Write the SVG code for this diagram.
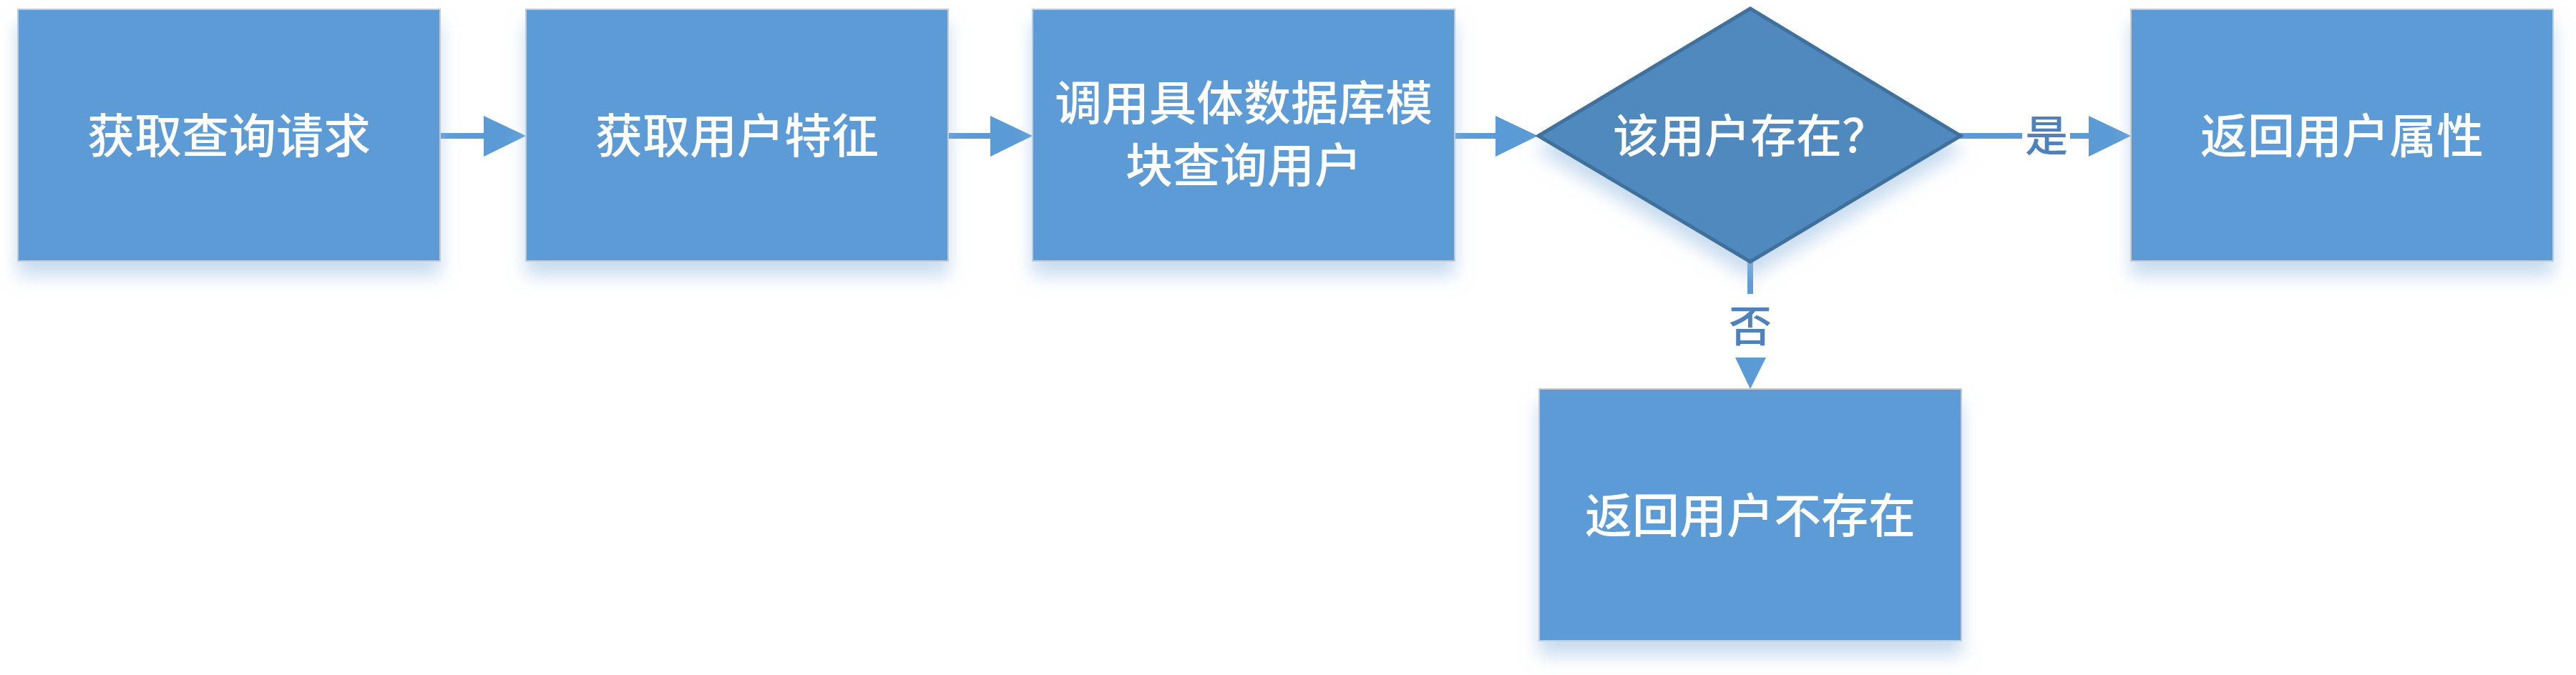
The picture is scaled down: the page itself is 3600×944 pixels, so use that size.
<svg xmlns="http://www.w3.org/2000/svg" width="3600" height="944" viewBox="0 0 3600 944">
  <defs>
    <filter id="shadow" x="-10%" y="-10%" width="120%" height="130%">
      <feGaussianBlur in="SourceAlpha" stdDeviation="12" result="b"/>
      <feOffset in="b" dx="0" dy="20" result="o"/>
      <feFlood flood-color="#9DBFE3" flood-opacity="0.55"/>
      <feComposite in2="o" operator="in" result="s"/>
      <feMerge>
        <feMergeNode in="s"/>
        <feMergeNode in="SourceGraphic"/>
      </feMerge>
    </filter>
  </defs>
  <style>
    .box { fill: #5B9BD5; stroke: #C3CCD6; stroke-width: 2; }
    .dia { fill: #4F89BE; stroke: #41719C; stroke-width: 5; stroke-linejoin: miter; }
    .t { fill: #FFFFFF; font-family: "Noto Sans CJK SC", "Noto Sans", sans-serif; font-size: 66px; font-weight: 500; text-anchor: middle; }
    .lbl { fill: #4F81BD; font-family: "Noto Sans CJK SC", "Noto Sans", sans-serif; font-size: 60px; font-weight: 500; text-anchor: middle; }
    .ln { stroke: #5B9BD5; stroke-width: 8; fill: none; }
    .ah { fill: #5B9BD5; }
  </style>
  <rect width="3600" height="944" fill="#FFFFFF"/>

  <g id="connectors">
    <line class="ln" x1="615" y1="190" x2="680" y2="190"/>
    <polygon class="ah" points="676,162 735,190 676,219"/>
    <line class="ln" x1="1325" y1="190" x2="1390" y2="190"/>
    <polygon class="ah" points="1384,162 1443,190 1384,219"/>
    <line class="ln" x1="2033" y1="190" x2="2094" y2="190"/>
    <polygon class="ah" points="2090,162 2149,190 2090,219"/>
    <line class="ln" x1="2738" y1="190" x2="2826" y2="190"/>
    <line class="ln" x1="2893" y1="190" x2="2922" y2="190"/>
    <polygon class="ah" points="2919,162 2978,190 2919,219"/>
    <text class="lbl" x="2860" y="212">是</text>
    <line class="ln" x1="2446" y1="366" x2="2446" y2="411"/>
    <text class="lbl" x="2446" y="478">否</text>
    <polygon class="ah" points="2425,500 2468,500 2446,544"/>
  </g>

  <g id="n1" filter="url(#shadow)">
    <rect class="box" x="25" y="13" width="590" height="352"/>
    <text class="t" x="320" y="214">获取查询请求</text>
  </g>
  <g id="n2" filter="url(#shadow)">
    <rect class="box" x="735" y="13" width="590" height="352"/>
    <text class="t" x="1030" y="214">获取用户特征</text>
  </g>
  <g id="n3" filter="url(#shadow)">
    <rect class="box" x="1443" y="13" width="590" height="352"/>
    <text class="t" x="1738" y="168">调用具体数据库模</text>
    <text class="t" x="1738" y="255">块查询用户</text>
  </g>
  <g id="n4" filter="url(#shadow)">
    <polygon class="dia" points="2446,12 2740,190 2446,366 2150,190"/>
    <text class="t" x="2446" y="213" style="font-size:64px">该用户存在？</text>
  </g>
  <g id="n5" filter="url(#shadow)">
    <rect class="box" x="2978" y="13" width="590" height="352"/>
    <text class="t" x="3273" y="214">返回用户属性</text>
  </g>
  <g id="n6" filter="url(#shadow)">
    <rect class="box" x="2151" y="544" width="590" height="352"/>
    <text class="t" x="2446" y="745">返回用户不存在</text>
  </g>
</svg>
